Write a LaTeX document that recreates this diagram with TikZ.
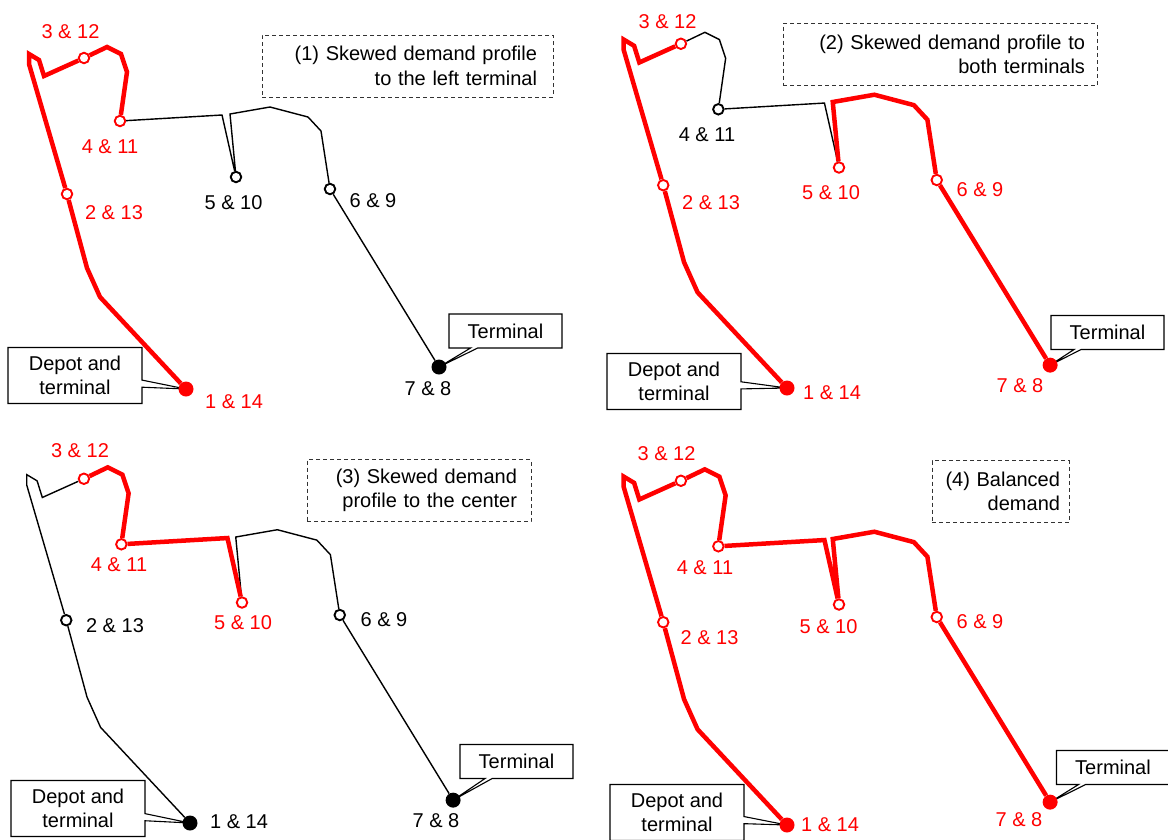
\documentclass[tikz,border=0pt]{standalone}
\usepackage{fontspec}
\setmainfont{Liberation Sans}
\usetikzlibrary{shapes.callouts}
\pgfdeclarelayer{bg}
\pgfsetlayers{bg,main}

% bend points of the route, relative to the depot
\newcommand\routebends[1]{%
  \coordinate (#1b1) at (-86,-92);
  \coordinate (#1b2) at (-99,-121);
  \coordinate (#1b3) at (-157,-325);
  \coordinate (#1tip) at (-157,-335);
  \coordinate (#1b4) at (-147,-329);
  \coordinate (#1b5) at (-142,-313);
  \coordinate (#1b6) at (-79,-342);
  \coordinate (#1b7) at (-65,-335);
  \coordinate (#1b8) at (-59,-317);
  \coordinate (#1b9) at (36,-274);
  \coordinate (#1b10) at (44,-275);
  \coordinate (#1b11) at (84,-282);
  \coordinate (#1b12) at (122,-272);
  \coordinate (#1b13) at (135,-258);
}
% stops 1..7 with their colours
\newcommand\routestops[8]{%
  \node[hub=#2]  (#1n1) at (0,0) {};
  \node[stop=#3] (#1n2) at (-119,-195) {};
  \node[stop=#4] (#1n3) at (-102,-331) {};
  \node[stop=#5] (#1n4) at (-66,-268) {};
  \node[stop=#6] (#1n5) at (50,-212) {};
  \node[stop=#7] (#1n6) at (144,-200) {};
  \node[hub=#8]  (#1n7) at (253,-22) {};
}
% route legs
\newcommand\legA[1]{(#1n1) -- (#1b1) -- (#1b2) -- (#1n2) -- (#1b3) -- (#1tip) -- (#1b4) -- (#1b5) -- (#1n3)}
\newcommand\legB[1]{(#1n3) -- (#1b6) -- (#1b7) -- (#1b8) -- (#1n4)}
\newcommand\legC[1]{(#1n4) -- (#1b9) -- (#1n5)}
\newcommand\legD[1]{(#1n5) -- (#1b10) -- (#1b11) -- (#1b12) -- (#1b13) -- (#1n6) -- (#1n7)}

\begin{document}
\begin{tikzpicture}[x=1pt,y=-1pt,
  every node/.style={font=\fontsize{20}{24.5}\selectfont},
  blk/.style={line width=1.4pt, black, line join=miter},
  rd/.style={line width=4.5pt, red, line join=miter},
  stop/.style={circle, draw=#1, fill=white, line width=1.9pt, inner sep=0pt, minimum size=10.5pt},
  hub/.style={circle, fill=#1, draw=none, inner sep=0pt, minimum size=15pt},
  lab/.style={text=#1, inner sep=0pt},
  callbox/.style={rectangle callout, draw, fill=white, line width=1.1pt, align=center,
    inner sep=0pt, minimum width=134pt, minimum height=56pt},
  termbox/.style={rectangle callout, draw, fill=white, line width=1.1pt,
    inner sep=0pt, minimum width=113pt, minimum height=34pt},
  ttl/.style={draw=black!80, dash pattern=on 4pt off 3pt, line width=1pt, align=right,
    inner ysep=0pt, minimum height=62pt}
]
\useasboundingbox (0,0) rectangle (1168,839);

% ---------- panel 1 ----------
\begin{scope}[shift={(186,389)}]
  \routebends{p1}
  \routestops{p1}{red}{red}{red}{red}{black}{black}{black}
\end{scope}
\draw[blk] \legC{p1} \legD{p1};
\draw[rd] \legA{p1} \legB{p1};
\node[lab=red]   (p1l1) at (234,402) {1 \& 14};
\node[lab=red]   (p1l2) at (114,213) {2 \& 13};
\node[lab=red]   (p1l3) at (70.5,32) {3 \& 12};
\node[lab=red]   (p1l4) at (110,147) {4 \& 11};
\node[lab=black] (p1l5) at (233.5,203) {5 \& 10};
\node[lab=black] (p1l6) at (373,201) {6 \& 9};
\node[lab=black] (p1l7) at (428,389) {7 \& 8};
\node[ttl, text width=259pt, inner xsep=16pt] (p1t) at (407.5,66)
  {(1) Skewed demand profile\\to the left terminal};

% ---------- panel 2 ----------
\begin{scope}[shift={(787,388)}, scale=1.04]
  \routebends{p2}
  \routestops{p2}{red}{red}{red}{black}{red}{red}{red}
\end{scope}
\draw[blk] \legB{p2} \legC{p2};
\draw[rd] \legA{p2} \legD{p2};
\node[lab=red]   (p2l1) at (832,393) {1 \& 14};
\node[lab=red]   (p2l2) at (711,203) {2 \& 13};
\node[lab=red]   (p2l3) at (667.5,22) {3 \& 12};
\node[lab=black] (p2l4) at (707,135) {4 \& 11};
\node[lab=red]   (p2l5) at (831,193) {5 \& 10};
\node[lab=red]   (p2l6) at (980,190) {6 \& 9};
\node[lab=red]   (p2l7) at (1020,386) {7 \& 8};
\node[ttl, text width=290pt, inner xsep=12pt] (p2t) at (940,54.5)
  {(2) Skewed demand profile to\\both terminals};

% ---------- panel 3 ----------
\begin{scope}[shift={(190,823)}, scale=1.04]
  \routebends{p3}
  \routestops{p3}{black}{black}{red}{red}{red}{black}{black}
\end{scope}
\draw[blk] \legA{p3} \legD{p3};
\draw[rd] \legB{p3} \legC{p3};
\node[lab=black] (p3l1) at (239,822) {1 \& 14};
\node[lab=black] (p3l2) at (115,626) {2 \& 13};
\node[lab=red]   (p3l3) at (80,451) {3 \& 12};
\node[lab=red]   (p3l4) at (119,565) {4 \& 11};
\node[lab=red]   (p3l5) at (243,623) {5 \& 10};
\node[lab=black] (p3l6) at (384,620) {6 \& 9};
\node[lab=black] (p3l7) at (436,821) {7 \& 8};
\node[ttl, text width=196pt, inner xsep=14pt] (p3t) at (419,490.5)
  {(3) Skewed demand\\profile to the center};

% ---------- panel 4 ----------
\begin{scope}[shift={(787,825)}, scale=1.04]
  \routebends{p4}
  \routestops{p4}{red}{red}{red}{red}{red}{red}{red}
\end{scope}
\draw[rd] \legA{p4} \legB{p4} \legC{p4} \legD{p4};
\node[lab=red] (p4l1) at (830,825) {1 \& 14};
\node[lab=red] (p4l2) at (709.5,638) {2 \& 13};
\node[lab=red] (p4l3) at (666.5,454) {3 \& 12};
\node[lab=red] (p4l4) at (705,568) {4 \& 11};
\node[lab=red] (p4l5) at (828.5,627) {5 \& 10};
\node[lab=red] (p4l6) at (980,622) {6 \& 9};
\node[lab=red] (p4l7) at (1019,820) {7 \& 8};
\node[ttl, text width=119pt, inner xsep=9pt] (p4t) at (1000.5,491.5)
  {\hyphenpenalty=10000 (4) Balanced\\demand};

% ---------- callouts ----------
\begin{pgfonlayer}{bg}
  \node[callbox, callout absolute pointer={(p1n1)}] (p1dep) at (75,375.5) {Depot and\\terminal};
  \node[termbox, callout absolute pointer={(p1n7)}] (p1term) at (505.5,331) {Terminal};
  \node[callbox, callout absolute pointer={(p2n1)}] (p2dep) at (674,381.5) {Depot and\\terminal};
  \node[termbox, callout absolute pointer={(p2n7)}] (p2term) at (1107.5,332.5) {Terminal};
  \node[callbox, callout absolute pointer={(p3n1)}] (p3dep) at (78,808.5) {Depot and\\terminal};
  \node[termbox, callout absolute pointer={(p3n7)}] (p3term) at (516.5,761.5) {Terminal};
  \node[callbox, callout absolute pointer={(p4n1)}] (p4dep) at (677,812.5) {Depot and\\terminal};
  \node[termbox, callout absolute pointer={(p4n7)}] (p4term) at (1113,767.5) {Terminal};
\end{pgfonlayer}
\end{tikzpicture}
\end{document}
